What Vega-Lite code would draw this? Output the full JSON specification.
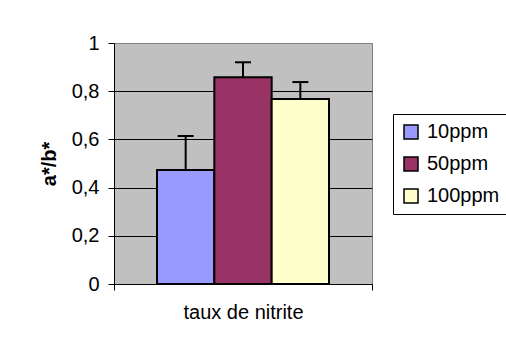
{
  "$schema": "https://vega.github.io/schema/vega-lite/v6.json",
  "autosize": "none",
  "padding": {"left": 114, "top": 43, "right": 134, "bottom": 69},
  "width": 258,
  "height": 241,
  "background": "white",
  "config": {
    "font": "Liberation Sans",
    "view": {"fill": "#C0C0C0", "stroke": "#808080", "strokeWidth": 1}
  },
  "data": {
    "values": [
      {"categorie": "taux de nitrite", "serie": "10ppm", "valeur": 0.473, "erreur_haut": 0.614},
      {"categorie": "taux de nitrite", "serie": "50ppm", "valeur": 0.858, "erreur_haut": 0.92},
      {"categorie": "taux de nitrite", "serie": "100ppm", "valeur": 0.768, "erreur_haut": 0.838}
    ]
  },
  "encoding": {
    "x": {
      "field": "categorie",
      "type": "nominal",
      "scale": {"paddingInner": 0, "paddingOuter": 0},
      "axis": {
        "title": null,
        "labelAngle": 0,
        "tickBand": "extent",
        "domainColor": "black",
        "tickColor": "black",
        "tickSize": 6,
        "labelFontSize": 20,
        "labelColor": "black",
        "labelPadding": 12,
        "grid": false
      }
    },
    "xOffset": {
      "field": "serie",
      "type": "nominal",
      "sort": ["10ppm", "50ppm", "100ppm"],
      "scale": {"paddingInner": 0, "paddingOuter": 0.75}
    }
  },
  "layer": [
    {
      "mark": {"type": "bar", "stroke": "black", "strokeWidth": 2},
      "encoding": {
        "y": {
          "field": "valeur",
          "type": "quantitative",
          "scale": {"domain": [0, 1]},
          "axis": {
            "title": "a*/b*",
            "titleFontSize": 20,
            "titleFontWeight": "bold",
            "titleColor": "black",
            "titlePadding": 12,
            "values": [0, 0.2, 0.4, 0.6, 0.8, 1],
            "format": "~g",
            "labelExpr": "replace(datum.label, '.', ',')",
            "labelFontSize": 20,
            "labelColor": "black",
            "labelPadding": 9,
            "labelFlush": false,
            "labelOverlap": false,
            "tickSize": 6,
            "tickColor": "black",
            "domainColor": "black",
            "grid": true,
            "gridColor": {"condition": {"test": "datum.value >= 1", "value": "#808080"}, "value": "black"},
            "gridOpacity": 1
          }
        },
        "color": {
          "field": "serie",
          "type": "nominal",
          "scale": {"domain": ["10ppm", "50ppm", "100ppm"], "range": ["#9999FF", "#993366", "#FFFFCC"]},
          "legend": {
            "title": null,
            "orient": "none",
            "legendX": 279,
            "legendY": 71,
            "strokeColor": "black",
            "fillColor": "white",
            "padding": 8,
            "symbolType": "square",
            "symbolSize": 196,
            "symbolStrokeColor": "black",
            "symbolStrokeWidth": 1.5,
            "symbolOpacity": 1,
            "labelFontSize": 20,
            "labelColor": "black",
            "rowPadding": 12,
            "labelOffset": 6
          }
        }
      }
    },
    {
      "mark": {"type": "rule", "color": "black", "strokeWidth": 2},
      "encoding": {
        "y": {"field": "valeur", "type": "quantitative"},
        "y2": {"field": "erreur_haut"}
      }
    },
    {
      "mark": {"type": "tick", "color": "black", "thickness": 2, "size": 16, "opacity": 1},
      "encoding": {
        "y": {"field": "erreur_haut", "type": "quantitative"}
      }
    }
  ]
}
